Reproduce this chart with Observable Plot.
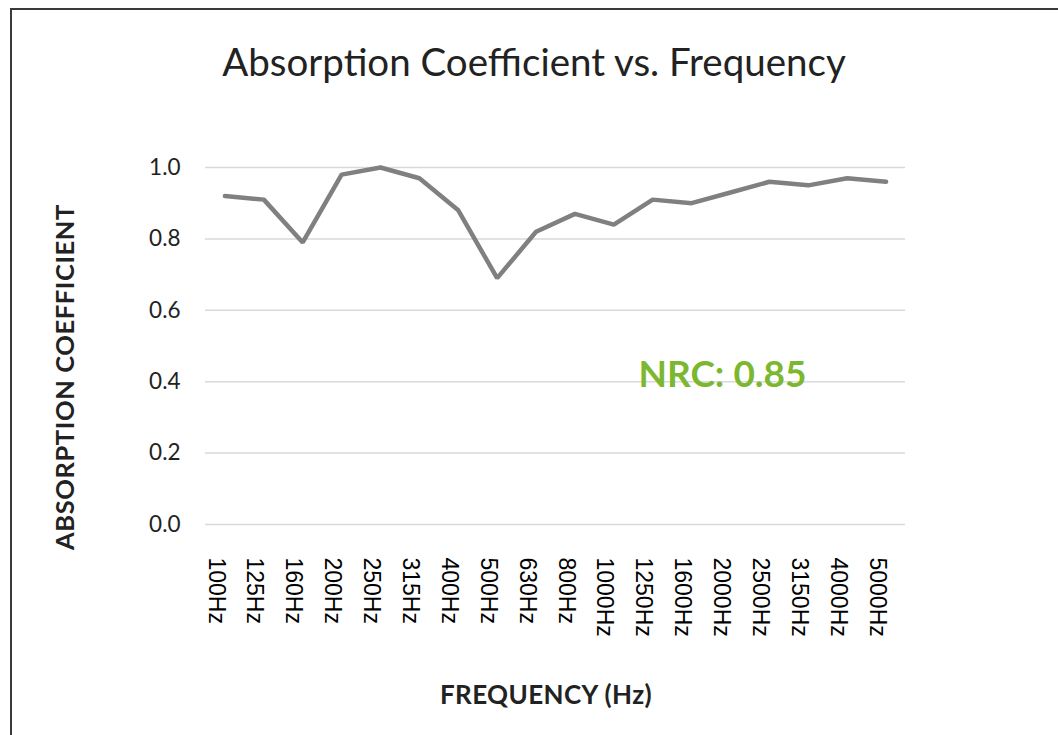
<!DOCTYPE html>
<html>
<head>
<meta charset="utf-8">
<script src="https://cdn.jsdelivr.net/npm/d3@7"></script>
<script src="https://cdn.jsdelivr.net/npm/@observablehq/plot@0.6"></script>
<style>
  html, body { margin: 0; padding: 0; background: #fff; }
  #wrap { position: relative; width: 1058px; height: 735px; overflow: hidden; font-family: Lato, "Open Sans", sans-serif; }
  #frame { position: absolute; left: 10px; top: 8px; width: 2000px; height: 2000px; border-left: 2.5px solid #3a3a3a; border-top: 2.5px solid #3a3a3a; box-sizing: border-box; }
  #title { position: absolute; left: 0; width: 1068px; top: 38px; text-align: center; font-size: 38.5px; color: #222; white-space: nowrap; line-height: 1.2; }
  #ylab { position: absolute; left: 64px; top: 377px; transform: translate(-50%, -50%) rotate(-90deg); font-size: 25.5px; font-weight: bold; color: #222; white-space: nowrap; letter-spacing: 0.6px; }
  #xlab { position: absolute; left: 0; width: 1092px; top: 678px; text-align: center; font-size: 26px; font-weight: bold; color: #222; white-space: nowrap; letter-spacing: 0.4px; }
  #chart { position: absolute; left: 0; top: 0; }
</style>
</head>
<body>
<div id="wrap">
  <div id="frame"></div>
  <div id="chart"></div>
  <div id="title">Absorption Coefficient vs. Frequency</div>
  <div id="ylab">ABSORPTION COEFFICIENT</div>
  <div id="xlab">FREQUENCY (Hz)</div>
</div>
<script>
const frequencies = ["100Hz","125Hz","160Hz","200Hz","250Hz","315Hz","400Hz","500Hz","630Hz","800Hz","1000Hz","1250Hz","1600Hz","2000Hz","2500Hz","3150Hz","4000Hz","5000Hz"];
const coefficients = [0.92,0.91,0.79,0.98,1.00,0.97,0.88,0.69,0.82,0.87,0.84,0.91,0.90,0.93,0.96,0.95,0.97,0.96];
const yTicks = [0,0.2,0.4,0.6,0.8,1.0];
const nrcLabel = "NRC: 0.85";
const nrcValue = 0.4;
const nrcAt = "2000Hz";

const data = frequencies.map((f, i) => ({freq: f, value: coefficients[i]}));

const chart = Plot.plot({
  width: 1058,
  height: 735,
  marginLeft: 205,
  marginRight: 153,
  marginTop: 167,
  marginBottom: 211,
  style: {background: "transparent"},
  x: {type: "band", domain: frequencies, padding: 0, round: false, label: null},
  y: {domain: [0, 1], label: null},
  marks: [
    Plot.ruleY(yTicks, {stroke: "#d9d9d9", strokeWidth: 1.5}),
    Plot.axisY(yTicks, {tickSize: 0, tickPadding: 25, tickFormat: d3.format(".1f"), fontSize: 22.5, fill: "#222", fontFamily: "Lato, sans-serif", label: null}),
    Plot.axisX({tickSize: 0, tickPadding: 33, rotate: 90, textAnchor: "start", fontSize: 23, fill: "#000", fontFamily: "Liberation Sans, Arial, sans-serif", label: null}),
    Plot.line(data, {x: "freq", y: "value", stroke: "#808080", strokeWidth: 4.5, strokeLinejoin: "miter", strokeLinecap: "round"}),
    Plot.text([nrcLabel], {x: () => nrcAt, y: () => nrcValue, text: d => d, fill: "#7cb82f", fontSize: 37, fontWeight: "bold", lineAnchor: "bottom", dy: 5, dx: -8, fontFamily: "Lato, sans-serif"})
  ]
});
document.getElementById("chart").appendChild(chart);
</script>
</body>
</html>
